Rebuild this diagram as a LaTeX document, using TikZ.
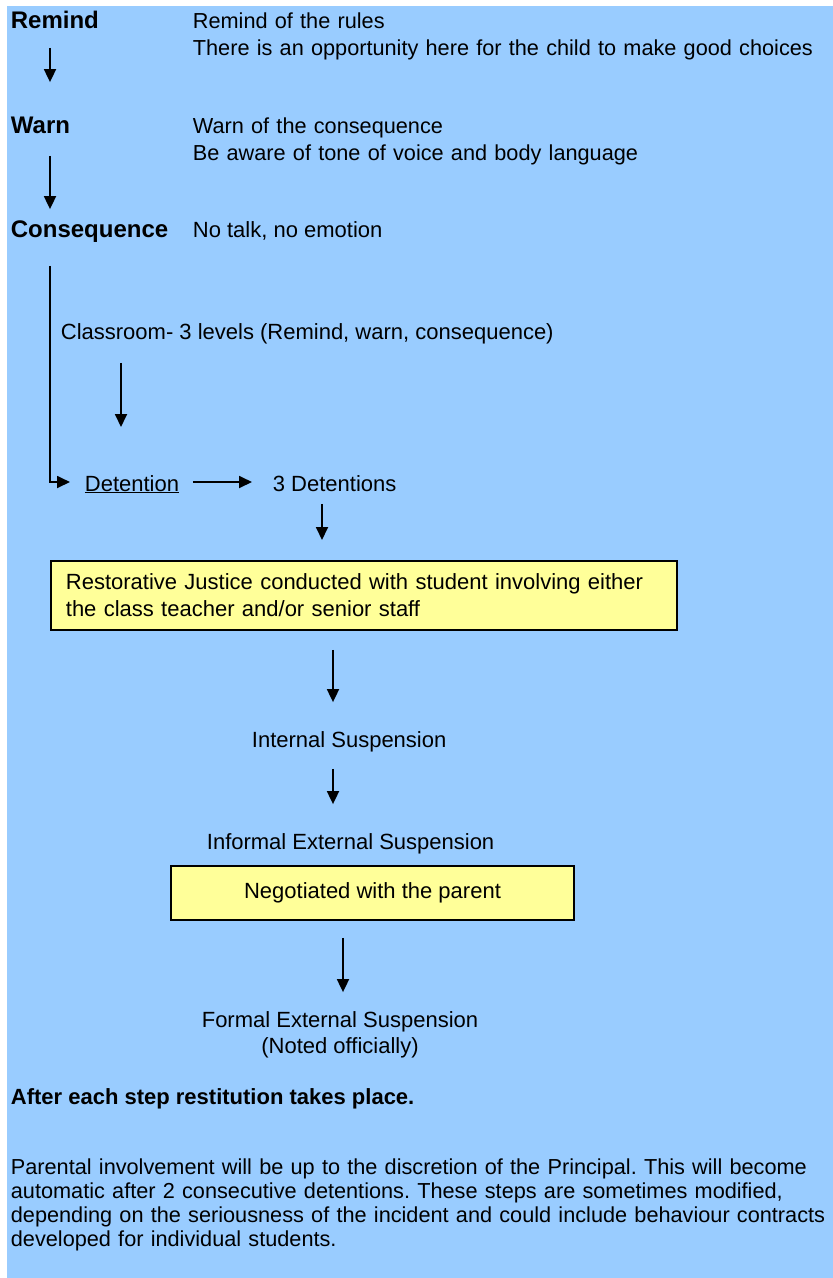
\documentclass[tikz,border=0pt]{standalone}
\usepackage{fontspec}
\setmainfont{Liberation Sans}
\usepackage{tikz}
\usetikzlibrary{arrows.meta}

\definecolor{sky}{HTML}{99CCFF}
\definecolor{pale}{HTML}{FFFF99}
\frenchspacing

\begin{document}
\begin{tikzpicture}[x=1pt,y=-1pt,line width=1.8pt,
    >={Triangle[length=13pt,width=12pt]},
    word/.style={inner sep=0pt,anchor=base west,text height=16pt,text depth=5pt,font=\fontsize{22}{27}\selectfont},
    head/.style={word,font=\fontsize{24}{28}\selectfont\bfseries},
    lines/.style={inner sep=0pt,anchor=base west,text width=#1,align=left,font=\fontsize{21.7}{27}\selectfont},
    box/.style={draw,fill=pale,inner sep=0pt,font=\fontsize{22}{27}\selectfont}]
    \useasboundingbox (0,0) rectangle (833,1278);
    \fill[sky] (7,6) rectangle (833,1278);
    \coordinate (colA) at (50,0);
    \coordinate (colB) at (121,427);
    \coordinate (colC) at (322,0);
    \coordinate (colD) at (333,0);
    \coordinate (colE) at (343,0);
    \node[head] (remind) at (10,28) {Remind};
    \node[lines=640pt] (reminddesc) at (192,28) {Remind of the rules\\There is an opportunity here for the child to make good choices};
    \node[head] (warn) at (10,133) {Warn};
    \node[lines=640pt] (warndesc) at (192,133) {Warn of the consequence\\Be aware of tone of voice and body language};
    \node[head] (consq) at (10,237) {Consequence};
    \node[word] (consqdesc) at (192,237) {No talk, no emotion};
    \node[word] (classroom) at (60,339) {Classroom- 3 levels (Remind, warn, consequence)};
    \node[word] (detn) at (84,491) {\underline{Detention}};
    \node[word] (three) at (272,491) {3 Detentions};
    \node[box,text width=596pt,inner xsep=15pt,minimum height=69pt,align=left,anchor=north west] (restore) at (50,560)
      {Restorative Justice conducted with student involving either\\the class teacher and/or senior staff};
    \node[word] (internal) at (251,747) {Internal Suspension};
    \node[word] (informal) at (206,849) {Informal External Suspension};
    \node[box,minimum width=403pt,minimum height=54pt] (negotiate) at (372.5,893) {Negotiated with the parent};
    \node[word,anchor=base] (formal) at (340,1027) {Formal External Suspension};
    \node[word,anchor=base] (noted) at (340,1053) {(Noted officially)};
    \node[word,font=\fontsize{22}{27}\selectfont\bfseries] (after) at (10,1104) {After each step restitution takes place.};
    \node[lines=830pt,font=\fontsize{21.7}{24.2}\selectfont] (parental) at (10,1174)
      {Parental involvement will be up to the discretion of the Principal. This will become\\automatic after 2 consecutive detentions. These steps are sometimes modified,\\depending on the seriousness of the incident and could include behaviour contracts\\developed for individual students.};
    \draw[->,shorten <=14pt,shorten >=34pt] (remind.south -| colA) -- (warn.north -| colA);
    \draw[->,shorten <=17pt,shorten >=11pt] (warn.south -| colA) -- (consq.north -| colA);
    \draw[->,shorten <=23pt,shorten >=14pt] (consq.south -| colA) |- ([yshift=3.5pt]detn.west);
    \draw[->,shorten <=18pt] (classroom.south -| colB) -- (colB);
    \draw[->,shorten <=13pt,shorten >=20pt] ([yshift=3.5pt]detn.east) -- ([yshift=3.5pt]three.west);
    \draw[->,shorten <=7pt,shorten >=20pt] (three.south -| colC) -- (restore.north -| colC);
    \draw[->,shorten <=19pt,shorten >=28pt] (restore.south -| colD) -- (internal.north -| colD);
    \draw[->,shorten <=16pt,shorten >=28pt] (internal.south -| colD) -- (informal.north -| colD);
    \draw[->,shorten <=17pt,shorten >=18pt] (negotiate.south -| colE) -- (formal.north -| colE);
\end{tikzpicture}
\end{document}
